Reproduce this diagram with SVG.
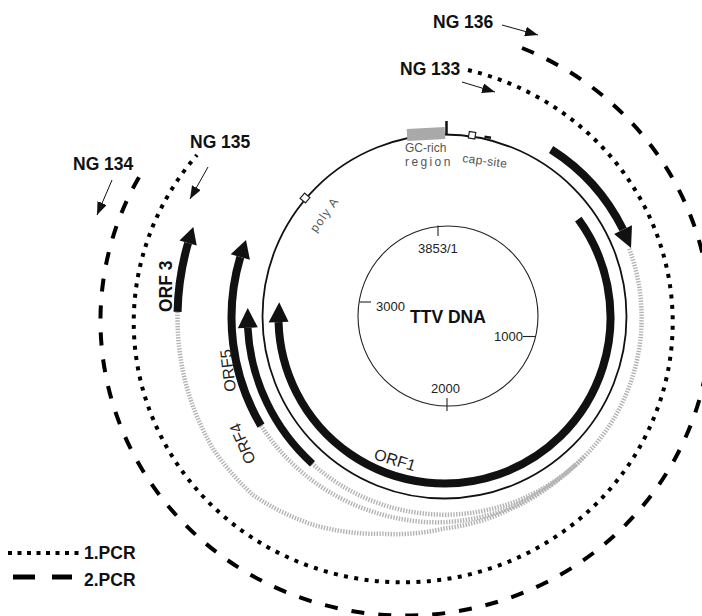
<svg xmlns="http://www.w3.org/2000/svg" width="702" height="616" viewBox="0 0 702 616">
<defs>
<style>
.orf{fill:none;stroke:#111;stroke-width:8;stroke-linecap:butt}
.head{fill:#111}
.gray{fill:none;stroke:#b3b3b3;stroke-width:4.5;stroke-dasharray:1.4 1.4}
.pcr1{fill:none;stroke:#000;stroke-width:4;stroke-dasharray:4 6.4}
.pcr2{fill:none;stroke:#000;stroke-width:4;stroke-dasharray:13 14}
.ng{font-family:"Liberation Sans",Arial,sans-serif;font-weight:bold;font-size:17.5px;fill:#111}
.lab{font-family:"Liberation Sans",Arial,sans-serif;font-size:16px;fill:#222}
.num{font-family:"Liberation Sans",Arial,sans-serif;font-size:13px;fill:#222}
.small{font-family:"Liberation Sans",Arial,sans-serif;font-size:12px;fill:#555}
.ptr{fill:none;stroke:#111;stroke-width:1}
</style>
<marker id="ah" viewBox="0 0 13 10" refX="13" refY="5" markerWidth="13" markerHeight="10" markerUnits="userSpaceOnUse" orient="auto"><path d="M0,0 L13,5 L0,10 z" fill="#111"/></marker>
</defs>
<rect width="702" height="616" fill="#fff"/>

<g id="pcr-arcs">
<path class="pcr2" d="M522,48 A305,295 0 1 1 142,172"/>
<path class="pcr1" d="M468,70 A269.5,260 0 1 1 197,155"/>
</g>

<g id="gray-links">
<path class="gray" d="M629.2,248.8 A197,197 0 0 1 312.4,463.7"/>
<path class="gray" d="M261,425.6 A211.5,211.5 0 0 0 309.5,478.4 A208.5,208.5 0 0 0 373.7,512 A206,206 0 0 0 437.3,522.4 A203.5,203.5 0 0 0 496.8,512.6 A200,200 0 0 0 543.75,489.4 A197.7,197.7 0 0 0 576.3,463.9"/>
<path class="gray" d="M177.56,311.91 A267,267 0 0 0 186.6,386.6 A266.5,266.5 0 0 0 214.1,450.5 A263.5,263.5 0 0 0 253.6,495.5 A253,253 0 0 0 314.7,525.3 A235,235 0 0 0 382.5,533.8 A218,218 0 0 0 444.5,528.5 A207,207 0 0 0 507.2,510.6 A200.5,200.5 0 0 0 558.1,479.7 A197.5,197.5 0 0 0 583.8,456.8"/>
</g>

<g id="genome">
<circle cx="444.5" cy="316.5" r="182" fill="none" stroke="#111" stroke-width="1.8"/>
<rect x="407" y="128" width="38" height="12" fill="#a9a9a9" transform="rotate(-3 426 134)"/>
<line x1="446.5" y1="121" x2="446.5" y2="135" stroke="#111" stroke-width="2.5"/>
<rect x="468.8" y="132" width="6.5" height="6.5" fill="#fff" stroke="#222" stroke-width="1.2" transform="rotate(9 472 135.3)"/>
<path d="M484.5,136.8 L491,137.8" stroke="#111" stroke-width="2.6"/>
<rect x="301.5" y="194.5" width="7" height="7" fill="#fff" stroke="#222" stroke-width="1.2" transform="rotate(-50 305 198)"/>
<text class="small" x="405" y="152">GC-rich</text>
<text class="small" x="405" y="165.5" letter-spacing="2.4">region</text>
<text class="small" font-size="11.5" transform="translate(462 162) rotate(7.5)" letter-spacing="0.4">cap-site</text>
<text class="small" font-size="12" fill="#333" letter-spacing="1.2" transform="translate(316 233) rotate(-54)">poly A</text>
</g>

<g id="inner-circle">
<circle cx="448" cy="316" r="90" fill="none" stroke="#222" stroke-width="1.1"/>
<line x1="438" y1="225.5" x2="438" y2="236" stroke="#222" stroke-width="1.1"/>
<line x1="359.5" y1="302" x2="371" y2="302" stroke="#222" stroke-width="1.1"/>
<line x1="523" y1="336.5" x2="536" y2="336.5" stroke="#222" stroke-width="1.1"/>
<line x1="447" y1="398" x2="447" y2="411" stroke="#222" stroke-width="1.1"/>
<text class="num" x="418" y="253">3853/1</text>
<text class="num" x="376" y="311">3000</text>
<text class="num" x="494" y="341">1000</text>
<text class="num" x="431" y="393">2000</text>
<text class="ng" font-size="18px" x="410" y="323">TTV DNA</text>
</g>

<g id="orf1">
<path class="orf" d="M578.3,219.2 A166,166 0 1 1 278.56,322.13"/>
<polygon class="head" points="268.57,322.41 279.21,302.17 288.56,321.85"/>
<text class="lab" transform="translate(373 459) rotate(17)">ORF1</text>
</g>

<g id="orf2">
<path class="orf" d="M551.1,149.5 A199,199 0 0 1 623.1,229.6"/>
<polygon class="head" points="632,225.2 631,248.1 614.1,234.1"/>
</g>

<g id="orf3">
<path class="orf" d="M177.56,311.91 A267,267 0 0 1 188.1,243"/>
<polygon class="head" points="179.5,240.5 193.3,227.1 196.7,245.5"/>
<text class="ng" font-size="17px" transform="translate(172 312) rotate(-90)">ORF 3</text>
</g>

<g id="orf4">
<path class="orf" style="stroke-width:7.5" d="M312.43,463.67 A197,197 0 0 1 247.77,327.81"/>
<polygon class="head" points="237.78,328.33 247.73,307.88 257.76,327.29"/>
<text class="lab" transform="translate(256 461) rotate(-113)">ORF4</text>
</g>

<g id="orf5">
<path class="orf" d="M261,425.6 A213,213 0 0 1 240.3,257"/>
<polygon class="head" points="230.7,254.2 246,240.1 249.9,259.8"/>
<text class="lab" transform="translate(236 391) rotate(-97)">ORF5</text>
</g>

<g id="primer-labels">
<text class="ng" x="433" y="28">NG 136</text>
<text class="ng" x="400" y="75">NG 133</text>
<text class="ng" x="190" y="148">NG 135</text>
<text class="ng" x="73" y="170">NG 134</text>
</g>

<g id="connectors">
<line class="ptr" x1="502" y1="25" x2="538" y2="35" marker-end="url(#ah)"/>
<line class="ptr" x1="462" y1="82" x2="495" y2="92" marker-end="url(#ah)"/>
<line class="ptr" x1="208" y1="167" x2="190" y2="199" marker-end="url(#ah)"/>
<line class="ptr" x1="112" y1="180" x2="97" y2="215" marker-end="url(#ah)"/>
</g>

<g id="legend">
<line x1="8" y1="553" x2="80" y2="553" stroke="#000" stroke-width="4" stroke-dasharray="4 5.5"/>
<text class="ng" font-size="17px" x="84" y="559">1.PCR</text>
<rect x="13" y="574.5" width="22" height="5" fill="#000"/>
<rect x="52" y="574.5" width="20" height="5" fill="#000"/>
<text class="ng" font-size="17px" x="84" y="586">2.PCR</text>
</g>
</svg>
